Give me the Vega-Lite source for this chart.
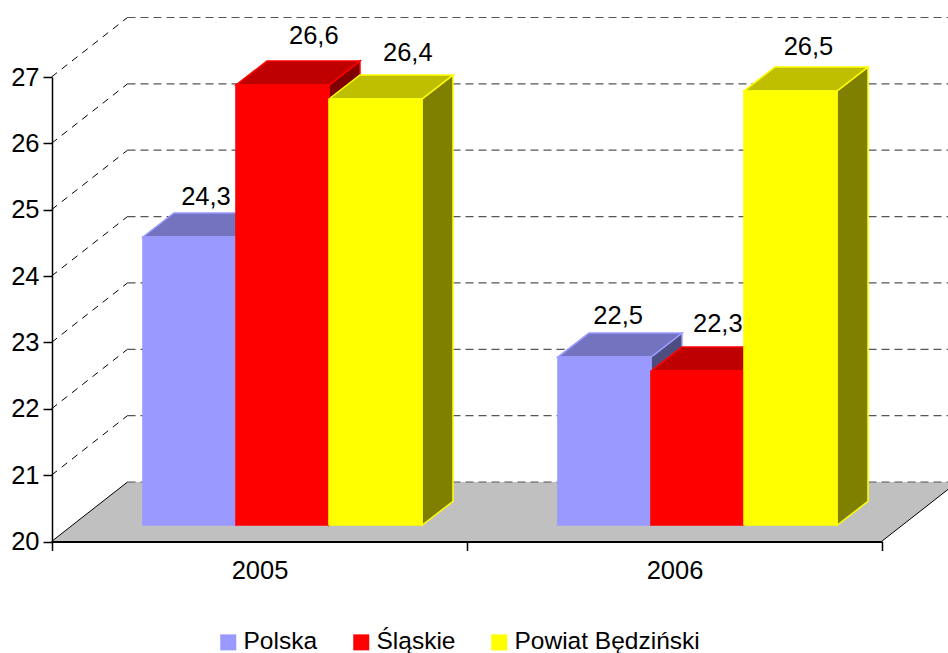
{
"$schema":"https://vega.github.io/schema/vega-lite/v6.json",
"autosize":{"type":"none"},
"padding":{"left":52,"top":77,"right":66,"bottom":111.5},
"width":830,"height":464.5,
"background":"white",
"view":{"stroke":null},
"config":{"font":"Liberation Sans","view":{"stroke":null}},
"datasets":{"bars":[
{"year":"2005","series":"Polska","value":24.34,"label":"24,3","bar":"2005 Polska"},
{"year":"2005","series":"Śląskie","value":26.63,"label":"26,6","bar":"2005 Śląskie"},
{"year":"2005","series":"Powiat Będziński","value":26.42,"label":"26,4","bar":"2005 Powiat"},
{"year":"2006","series":"Polska","value":22.53,"label":"22,5","bar":"2006 Polska"},
{"year":"2006","series":"Śląskie","value":22.32,"label":"22,3","bar":"2006 Śląskie"},
{"year":"2006","series":"Powiat Będziński","value":26.54,"label":"26,5","bar":"2006 Powiat"}
],"levels":[{"level":20},{"level":21},{"level":22},{"level":23},{"level":24},{"level":25},{"level":26},{"level":27}]},
"data":{"name":"bars"},
"layer":[
{"data":{"values":[{"level":20}]},
 "mark":{"type":"point","shape":"M-208,0L622,0L698,-59.5L-132,-59.5Z","size":4,"filled":true,"fill":"#C0C0C0","stroke":null,"opacity":1},
 "encoding":{"x":{"datum":"2005","type":"nominal","scale":{"domain":["2005","2006"],"paddingInner":0,"paddingOuter":0},
   "axis":{"title":null,"labelAngle":0,"labelFontSize":25.5,"labelColor":"black","labelPadding":8,"tickBand":"extent","tickSize":9,"tickWidth":1.5,"tickColor":"black","domainWidth":2,"domainColor":"black","zindex":1}},
  "y":{"field":"level","type":"quantitative","scale":{"domain":[20,27],"nice":false,"zero":false},
   "axis":{"title":null,"values":[20,21,22,23,24,25,26,27],"format":"d","labelFontSize":25.5,"labelColor":"black","labelPadding":4,"tickSize":9,"tickWidth":1.5,"tickColor":"black","domainWidth":1.5,"domainColor":"black","grid":false,"zindex":1}}}},
{"data":{"name":"levels"},
 "mark":{"type":"point","shape":"M-132,-59.5L698,-59.5","size":4,"filled":false,"stroke":"#555555","strokeWidth":1.2,"strokeDash":[8,5],"opacity":1},
 "encoding":{"x":{"datum":"2005","type":"nominal"},"y":{"field":"level","type":"quantitative"}}},
{"data":{"name":"levels"},"transform":[{"filter":"datum.level>20"}],
 "mark":{"type":"point","shape":"M-208,0L-132,-59.5","size":4,"filled":false,"stroke":"black","strokeWidth":1,"strokeDash":[7,6],"opacity":1},
 "encoding":{"x":{"datum":"2005","type":"nominal"},"y":{"field":"level","type":"quantitative"}}},
{"data":{"values":[{"level":20}]},
 "mark":{"type":"point","shape":"M-208,0L-132,-59.5M622,0L698,-59.5","size":4,"filled":false,"stroke":"black","strokeWidth":1,"opacity":1},
 "encoding":{"x":{"datum":"2005","type":"nominal"},"y":{"field":"level","type":"quantitative"}}},
{"mark":{"type":"point","size":4,"filled":true,"yOffset":-16.5,"strokeWidth":1.5,"opacity":1},
 "encoding":{"x":{"field":"year","type":"nominal"},
  "xOffset":{"field":"series","type":"nominal","sort":["Polska","Śląskie","Powiat Będziński"],"scale":{"domain":["Polska","Śląskie","Powiat Będziński"],"paddingInner":0,"paddingOuter":0.731,"align":0.669}},
  "y":{"field":"value","type":"quantitative"},
  "shape":{"field":"bar","type":"nominal","legend":null,"scale":{"domain":["2005 Polska","2005 Śląskie","2005 Powiat","2006 Polska","2006 Śląskie","2006 Powiat"],"range":[
   "M46.5,0L77.5,-24L77.5,264.2L46.5,288.2Z","M46.5,0L77.5,-24L77.5,416.2L46.5,440.2Z","M46.5,0L77.5,-24L77.5,402.3L46.5,426.3Z",
   "M46.5,0L77.5,-24L77.5,144L46.5,168Z","M46.5,0L77.5,-24L77.5,130L46.5,154Z","M46.5,0L77.5,-24L77.5,410.3L46.5,434.3Z"]}},
  "fill":{"field":"series","type":"nominal","legend":null,"scale":{"domain":["Polska","Śląskie","Powiat Będziński"],"range":["#4D4D80","#800000","#808000"]}},
  "stroke":{"field":"series","type":"nominal","legend":null,"scale":{"domain":["Polska","Śląskie","Powiat Będziński"],"range":["#9999FF","#FF0000","#FFFF00"]}}}},
{"mark":{"type":"point","shape":"M-46.5,0L46.5,0L77.5,-24L-15.5,-24Z","size":4,"filled":true,"yOffset":-16.5,"strokeWidth":1.5,"opacity":1},
 "encoding":{"x":{"field":"year","type":"nominal"},
  "xOffset":{"field":"series","type":"nominal","sort":["Polska","Śląskie","Powiat Będziński"]},
  "y":{"field":"value","type":"quantitative"},
  "fill":{"field":"series","type":"nominal","legend":null,"scale":{"domain":["Polska","Śląskie","Powiat Będziński"],"range":["#7373BF","#BF0000","#BFBF00"]}},
  "stroke":{"field":"series","type":"nominal","legend":null}}},
{"mark":{"type":"bar","yOffset":-16.5,"y2Offset":-16.5,"width":{"band":1},"strokeWidth":1.5},
 "encoding":{"x":{"field":"year","type":"nominal"},
  "xOffset":{"field":"series","type":"nominal","sort":["Polska","Śląskie","Powiat Będziński"]},
  "y":{"field":"value","type":"quantitative"},
  "y2":{"datum":20},
  "stroke":{"field":"series","type":"nominal","legend":null},
  "fill":{"field":"series","type":"nominal","sort":["Polska","Śląskie","Powiat Będziński"],"scale":{"domain":["Polska","Śląskie","Powiat Będziński"],"range":["#9999FF","#FF0000","#FFFF00"]},
   "legend":{"title":null,"orient":"none","legendX":164,"legendY":553,"direction":"horizontal","columns":3,"symbolType":"square","symbolSize":256,"symbolStrokeWidth":0,"labelFontSize":24.5,"labelColor":"black","labelOffset":3,"columnPadding":31,"labelLimit":300}}}},
{"transform":[{"filter":"datum.bar=='2005 Polska'"}],"mark":{"type":"text","fontSize":25.5,"dx":16.5,"dy":-56.6,"color":"black"},"encoding":{"x":{"field":"year","type":"nominal"},"xOffset":{"field":"series","type":"nominal","sort":["Polska","Śląskie","Powiat Będziński"]},"y":{"field":"value","type":"quantitative"},"text":{"field":"label"}}},
{"transform":[{"filter":"datum.bar=='2005 Śląskie'"}],"mark":{"type":"text","fontSize":25.5,"dx":31.3,"dy":-65.2,"color":"black"},"encoding":{"x":{"field":"year","type":"nominal"},"xOffset":{"field":"series","type":"nominal","sort":["Polska","Śląskie","Powiat Będziński"]},"y":{"field":"value","type":"quantitative"},"text":{"field":"label"}}},
{"transform":[{"filter":"datum.bar=='2005 Powiat'"}],"mark":{"type":"text","fontSize":25.5,"dx":32.3,"dy":-62.5,"color":"black"},"encoding":{"x":{"field":"year","type":"nominal"},"xOffset":{"field":"series","type":"nominal","sort":["Polska","Śląskie","Powiat Będziński"]},"y":{"field":"value","type":"quantitative"},"text":{"field":"label"}}},
{"transform":[{"filter":"datum.bar=='2006 Polska'"}],"mark":{"type":"text","fontSize":25.5,"dx":13.7,"dy":-57.5,"color":"black"},"encoding":{"x":{"field":"year","type":"nominal"},"xOffset":{"field":"series","type":"nominal","sort":["Polska","Śląskie","Powiat Będziński"]},"y":{"field":"value","type":"quantitative"},"text":{"field":"label"}}},
{"transform":[{"filter":"datum.bar=='2006 Śląskie'"}],"mark":{"type":"text","fontSize":25.5,"dx":20.3,"dy":-63.5,"color":"black"},"encoding":{"x":{"field":"year","type":"nominal"},"xOffset":{"field":"series","type":"nominal","sort":["Polska","Śląskie","Powiat Będziński"]},"y":{"field":"value","type":"quantitative"},"text":{"field":"label"}}},
{"transform":[{"filter":"datum.bar=='2006 Powiat'"}],"mark":{"type":"text","fontSize":25.5,"dx":18,"dy":-61,"color":"black"},"encoding":{"x":{"field":"year","type":"nominal"},"xOffset":{"field":"series","type":"nominal","sort":["Polska","Śląskie","Powiat Będziński"]},"y":{"field":"value","type":"quantitative"},"text":{"field":"label"}}}
],
"resolve":{"scale":{"fill":"independent"}}
}
